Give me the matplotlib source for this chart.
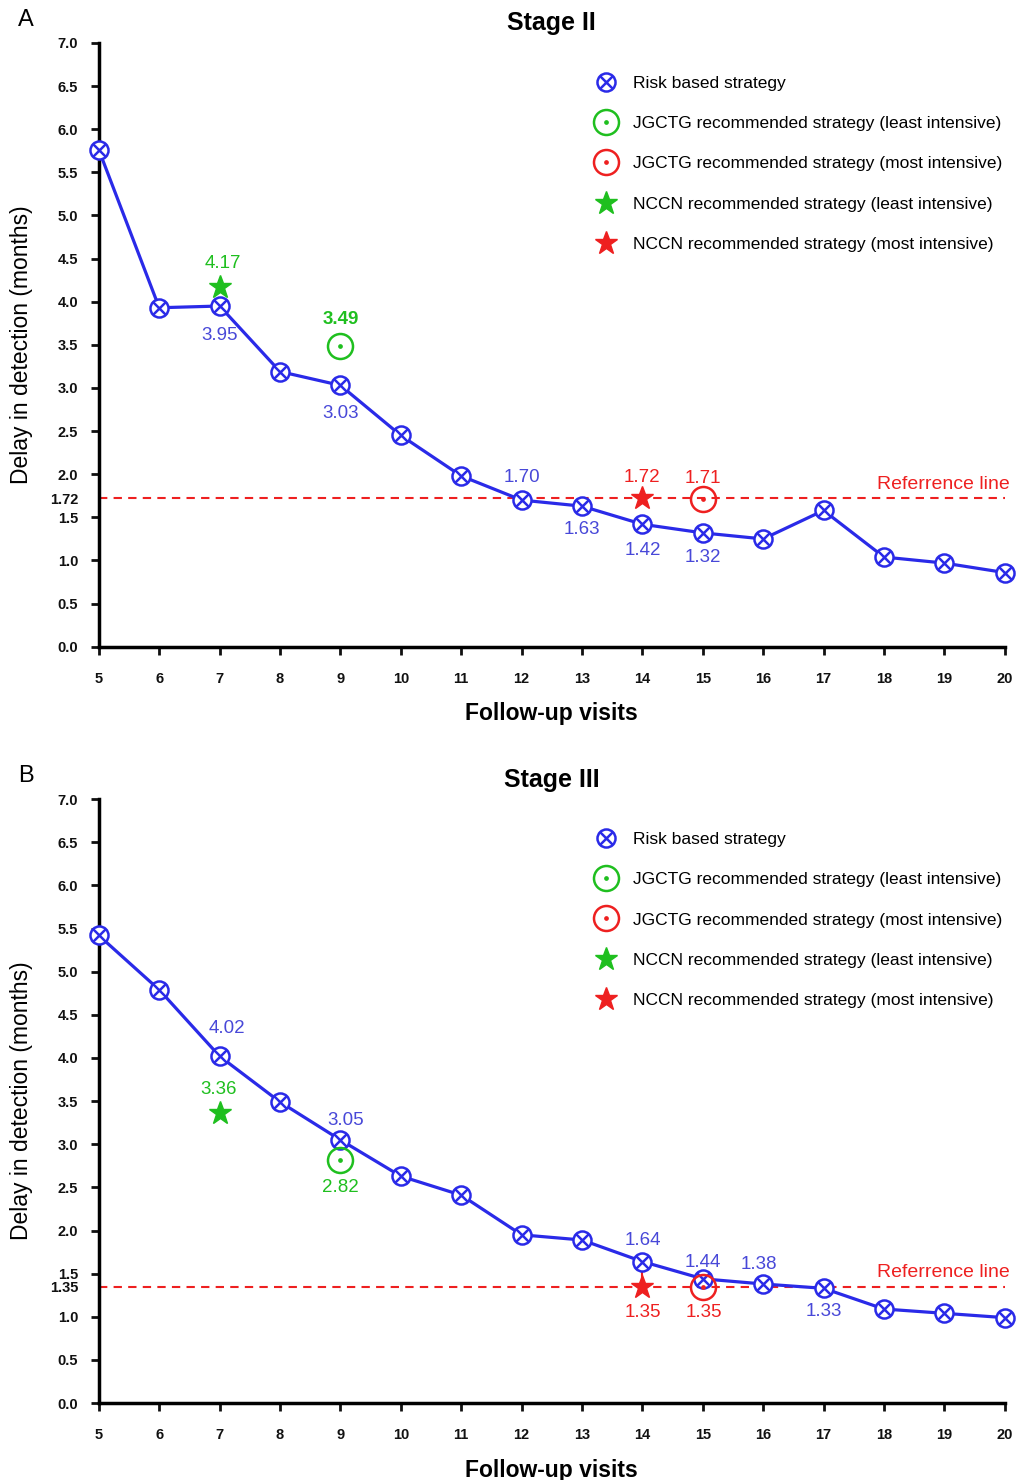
import numpy as np
import matplotlib.pyplot as plt
from matplotlib.path import Path
from matplotlib.lines import Line2D

plt.rcParams['font.family'] = ['Liberation Sans', 'DejaVu Sans']

visits = list(range(5, 21))

# Stage II
risk_ii = [5.76, 3.93, 3.95, 3.19, 3.03, 2.45, 1.98, 1.70, 1.63, 1.42, 1.32, 1.25, 1.58, 1.04, 0.97, 0.86]
jgctg_least_ii = (9, 3.49)
jgctg_most_ii = (15, 1.71)
nccn_least_ii = (7, 4.17)
nccn_most_ii = (14, 1.72)
ref_ii = 1.72

# Stage III
risk_iii = [5.42, 4.79, 4.02, 3.49, 3.05, 2.63, 2.41, 1.95, 1.89, 1.64, 1.44, 1.38, 1.33, 1.09, 1.04, 0.99]
jgctg_least_iii = (9, 2.82)
jgctg_most_iii = (15, 1.35)
nccn_least_iii = (7, 3.36)
nccn_most_iii = (14, 1.35)
ref_iii = 1.35

legend_labels = ["Risk based strategy",
                 "JGCTG recommended strategy (least intensive)",
                 "JGCTG recommended strategy (most intensive)",
                 "NCCN recommended strategy (least intensive)",
                 "NCCN recommended strategy (most intensive)"]

BLUE = '#2a2ae8'
BLUE_TXT = '#4848d8'
GREEN = '#1fbf1f'
RED = '#ee2020'

# circle with x inside
circ = Path.unit_circle()
d = 0.707
xs = Path([(-d, -d), (d, d), (-d, d), (d, -d)],
          [Path.MOVETO, Path.LINETO, Path.MOVETO, Path.LINETO])
circ_x = Path.make_compound_path(circ, xs)
dot = Path.circle((0, 0), 0.09)
circ_dot = Path.make_compound_path(circ, dot)


def panel(ax, risk, jl, jm, nl, nm, ref, labels_cfg, title, letter, stem=False):
    ax.plot(visits, risk, color=BLUE, lw=2.3, marker=circ_x, ms=13,
            mfc='white', mec=BLUE, mew=1.8, clip_on=False, zorder=3)
    if stem:
        ax.vlines(nm[0], nm[1], risk[visits.index(nm[0])], color=RED, lw=1.5, zorder=2)
    ax.plot(*jl, ls='none', marker=circ_dot, ms=18, mfc='none', mec=GREEN, mew=1.8, zorder=4)
    ax.plot(*jm, ls='none', marker=circ_dot, ms=18, mfc='none', mec=RED, mew=1.8, zorder=4)
    ax.plot(*nl, ls='none', marker='*', ms=17, color=GREEN, zorder=4)
    ax.plot(*nm, ls='none', marker='*', ms=17, color=RED, zorder=4)
    ax.axhline(ref, color=RED, ls=(0, (4, 3)), lw=1.5, zorder=2)
    ax.text(1.005, ref + 0.06, "Referrence line", color=RED, fontsize=14,
            ha='right', va='bottom', transform=ax.get_yaxis_transform())

    for x, y, txt, color, dx, dy, bold in labels_cfg:
        ax.annotate(txt, (x, y), xytext=(dx, dy), textcoords='offset points',
                    ha='center', va='center', color=color, fontsize=13.5,
                    fontweight='bold' if bold else 'normal')

    ax.set_xlim(5, 20)
    ax.set_ylim(0, 7)
    ax.set_xticks(visits)
    ax.set_xticklabels([str(v) for v in visits], fontsize=10.5, fontweight='bold')
    ticks = list(np.arange(0, 7.01, 0.5)) + [ref]
    ax.set_yticks(ticks)
    ax.set_yticklabels(['%.1f' % t for t in ticks[:-1]] + ['%.2f' % ref],
                       fontsize=10.5, fontweight='bold')
    ax.yaxis.get_major_ticks()[-1].tick1line.set_visible(False)
    ax.tick_params(width=2, length=6, colors='#111111')
    ax.tick_params(axis='x', pad=12)
    ax.tick_params(axis='y', pad=9)
    for s in ['top', 'right']:
        ax.spines[s].set_visible(False)
    for s in ['left', 'bottom']:
        ax.spines[s].set_linewidth(2.5)
    ax.set_xlabel("Follow-up visits", fontsize=16.5, fontweight='bold', labelpad=12)
    ax.set_ylabel("Delay in detection (months)", fontsize=16.5, labelpad=12)
    ax.set_title(title, fontsize=18, fontweight='bold', pad=9)
    ax.text(-0.089, 1.038, letter, fontsize=17, transform=ax.transAxes, va='center')

    handles = [
        Line2D([], [], ls='none', marker=circ_x, ms=13, mfc='white', mec=BLUE, mew=1.8),
        Line2D([], [], ls='none', marker=circ_dot, ms=18, mfc='none', mec=GREEN, mew=1.8),
        Line2D([], [], ls='none', marker=circ_dot, ms=18, mfc='none', mec=RED, mew=1.8),
        Line2D([], [], ls='none', marker='*', ms=17, color=GREEN),
        Line2D([], [], ls='none', marker='*', ms=17, color=RED),
    ]
    ax.legend(handles, legend_labels, loc='upper left', bbox_to_anchor=(0.531, 0.972),
              frameon=False, fontsize=12.5, labelspacing=1.45, handletextpad=0.95,
              handlelength=1.2)


fig = plt.figure(figsize=(10.19, 14.8), dpi=100)
ax1 = fig.add_axes([0.097, 0.563, 0.889, 0.408])
ax2 = fig.add_axes([0.097, 0.052, 0.889, 0.408])

labels_ii = [
    (7, nccn_least_ii[1], '4.17', GREEN, 2, 17, False),
    (7, risk_ii[2], '3.95', BLUE_TXT, 0, -21, False),
    (9, jgctg_least_ii[1], '3.49', GREEN, 0, 19, True),
    (9, risk_ii[4], '3.03', BLUE_TXT, 0, -20, False),
    (12, risk_ii[7], '1.70', BLUE_TXT, 0, 16, False),
    (13, risk_ii[8], '1.63', BLUE_TXT, 0, -17, False),
    (14, risk_ii[9], '1.42', BLUE_TXT, 0, -19, False),
    (15, risk_ii[10], '1.32', BLUE_TXT, 0, -18, False),
    (14, nccn_most_ii[1], '1.72', RED, 0, 15, False),
    (15, jgctg_most_ii[1], '1.71', RED, 0, 15, False),
]
labels_iii = [
    (7, risk_iii[2], '4.02', BLUE_TXT, 5, 20, False),
    (7, nccn_least_iii[1], '3.36', GREEN, -1, 17, False),
    (9, risk_iii[4], '3.05', BLUE_TXT, 4, 14, False),
    (9, jgctg_least_iii[1], '2.82', GREEN, 0, -20, False),
    (14, risk_iii[9], '1.64', BLUE_TXT, 0, 15, False),
    (15, risk_iii[10], '1.44', BLUE_TXT, 0, 12, False),
    (16, risk_iii[11], '1.38', BLUE_TXT, -3, 14, False),
    (17, risk_iii[12], '1.33', BLUE_TXT, 0, -17, False),
    (14, nccn_most_iii[1], '1.35', RED, 0, -19, False),
    (15, jgctg_most_iii[1], '1.35', RED, 1, -19, False),
]

panel(ax1, risk_ii, jgctg_least_ii, jgctg_most_ii, nccn_least_ii, nccn_most_ii,
      ref_ii, labels_ii, "Stage II", "A")
panel(ax2, risk_iii, jgctg_least_iii, jgctg_most_iii, nccn_least_iii, nccn_most_iii,
      ref_iii, labels_iii, "Stage III", "B", stem=True)

fig.savefig("out.png", dpi=100)
